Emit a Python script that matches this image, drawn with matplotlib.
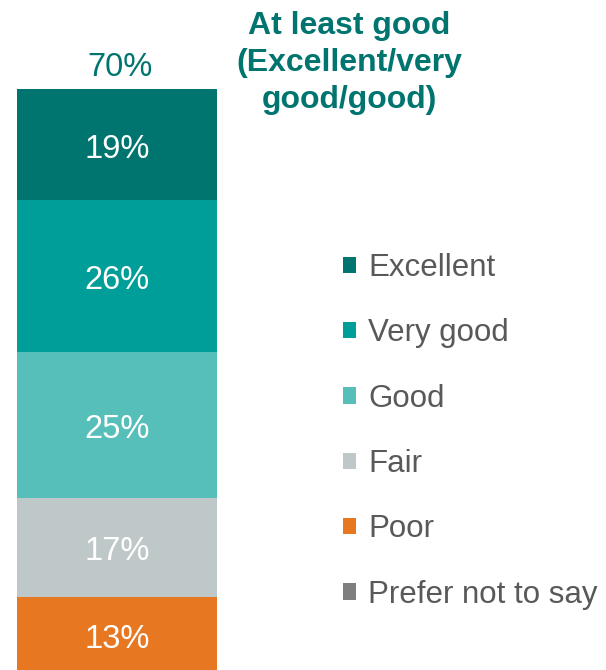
# single stacked bar of ratings with side legend

import numpy as np
import matplotlib.pyplot as plt

plt.rcParams['font.family'] = ['Liberation Sans', 'DejaVu Sans']

categories = ["Excellent", "Very good", "Good", "Fair", "Poor", "Prefer not to say"]
values = [19, 26, 25, 17, 13, 0]
colors = ["#00746F", "#009E99", "#57BFBA", "#BEC8C8", "#E87722", "#7F7F7F"]
total_label = "70%"
title_lines = "At least good\n(Excellent/very\ngood/good)"

teal = "#00746F"
grey = "#595959"
fs = 23.5

W, H = 606, 670
fig = plt.figure(figsize=(W / 100, H / 100), dpi=100)

# axes placed so the bar spans x 17..217 px and 0..100 maps to y 673..89 px
ax = fig.add_axes([17 / W, (H - 673) / H, 200 / W, 584 / H])
ax.set_xlim(-0.5, 0.5)
ax.set_ylim(0, 100)
ax.axis("off")

# stack from the bottom: Prefer not to say, Poor, Fair, Good, Very good, Excellent
bottom = 0
handles = {}
for cat, val, col in reversed(list(zip(categories, values, colors))):
    b = ax.bar(0, val, width=1.0, bottom=bottom, color=col, label=cat)
    handles[cat] = b
    if val > 0:
        # baseline shifted down by half the digit height so the digits sit centred
        ax.annotate(f"{val}%", (0, bottom + val / 2), xytext=(0, -0.4 * fs),
                    textcoords="offset points", ha="center", va="baseline",
                    color="white", fontsize=fs)
    bottom += val

fig.text(120 / W, 1 - 64 / H, total_label, ha="center", va="center_baseline",
         color=teal, fontsize=fs)
fig.text(349 / W, 1 - 63 / H, title_lines, ha="center", va="center",
         color=teal, fontsize=23, fontweight="bold", linespacing=1.32)

leg = fig.legend([handles[c] for c in categories], categories,
                 loc="upper left", bbox_to_anchor=(343 / W, 1 - 253 / H),
                 frameon=False, fontsize=22.5, labelcolor=grey,
                 handlelength=0.42, handleheight=0.42, handletextpad=0.38,
                 labelspacing=1.13, borderpad=0, borderaxespad=0)

fig.savefig("out.png", dpi=100)
